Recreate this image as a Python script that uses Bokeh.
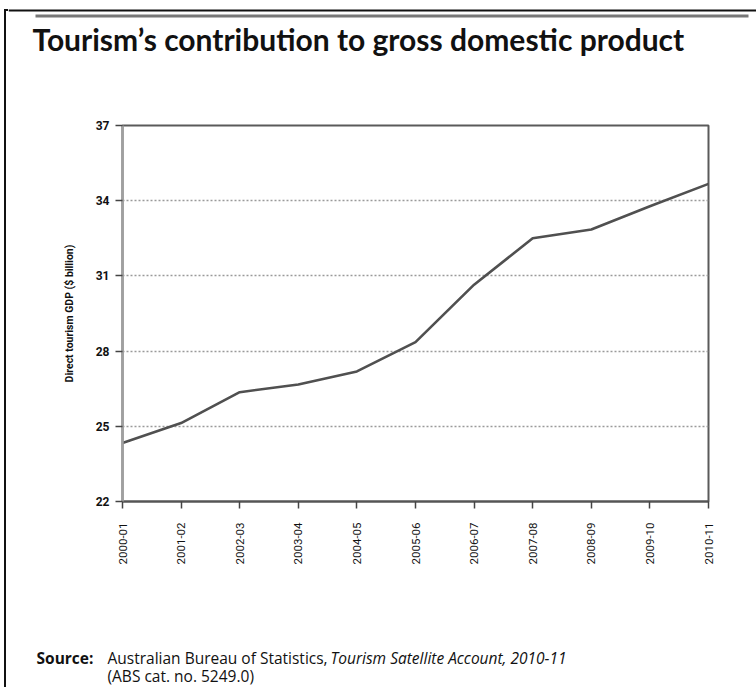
import math
from bokeh.plotting import figure
from bokeh.layouts import column, row
from bokeh.models import Range1d, FixedTicker, Label, Div
from bokeh.embed import file_html
from bokeh.resources import INLINE

# ---- data ----
years = ["2000-01", "2001-02", "2002-03", "2003-04", "2004-05", "2005-06",
         "2006-07", "2007-08", "2008-09", "2009-10", "2010-11"]
gdp = [24.33, 25.13, 26.36, 26.67, 27.19, 28.36, 30.65, 32.50, 32.85, 33.78, 34.67]
y_ticks = [22, 25, 28, 31, 34, 37]

title_text = "Tourism\u2019s contribution to gross domestic product"
y_label = "Direct tourism GDP ($ billion)"
src_head = "Source:"
src_1 = "Australian Bureau of Statistics,"
src_2 = "Tourism Satellite Account, 2010-11"
src_3 = "(ABS cat. no. 5249.0)"

xs = list(range(len(years)))
Y0, Y1 = 22, 37

W, H = 756, 687
OFF = 8              # width of the left border strip
CW = W - OFF         # width of the content column
TOP_H = 110          # title band
BOT_H = 47           # source band
MAIN_H = H - TOP_H - BOT_H


def deco(w, h):
    f = figure(width=w, height=h, output_backend="svg", toolbar_location=None,
               x_range=Range1d(0, w), y_range=Range1d(h, 0),
               x_axis_type=None, y_axis_type=None, min_border=0,
               outline_line_color=None, background_fill_color="white",
               border_fill_color="white")
    f.grid.visible = False
    return f


def lab(f, x, y, text, size, style="normal", font="Open Sans"):
    f.add_layout(Label(x=x - OFF, y=y, text=text, text_font=font,
                       text_font_style=style, text_font_size=size,
                       text_color="#111111", text_baseline="middle",
                       text_align="left"))


# ---- left border strip (plain block, no text) ----
strip = Div(text="", width=4, height=H - 9, margin=(9, 0, 0, 4),
            styles={"background":
                    "linear-gradient(#111111, #111111) left top / 100% 2px no-repeat, "
                    "linear-gradient(#111111, #111111) left top / 2px 100% no-repeat"})

# ---- title band ----
top = deco(CW, TOP_H)
top.quad(left=[0, 35 - OFF], right=[CW, 748 - OFF], top=[9, 14],
         bottom=[11, 17], fill_color=["#111111", "#777777"], line_color=None)
lab(top, 32, 38, title_text, "30px", "bold", "Lato")

# ---- main chart ----
FL, FR = 122 - OFF, W - 708
FT = 125 - TOP_H
FB = (TOP_H + MAIN_H) - 501
p = figure(width=CW, height=MAIN_H, output_backend="svg",
           toolbar_location=None,
           x_range=Range1d(0, len(years) - 1), y_range=Range1d(Y0, Y1),
           min_border_left=FL, min_border_right=FR, min_border_top=FT,
           min_border_bottom=FB, background_fill_color="white",
           border_fill_color="white")

p.line(xs, gdp, line_color="#505050", line_width=2.6)

p.xgrid.visible = False
p.ygrid.ticker = FixedTicker(ticks=y_ticks)
p.ygrid.grid_line_color = "#9a9a9a"
p.ygrid.grid_line_dash = "2 2"
p.ygrid.grid_line_width = 1.5
p.outline_line_color = "#5a5a5a"
p.outline_line_width = 2

p.yaxis.ticker = FixedTicker(ticks=y_ticks)
p.yaxis.axis_line_color = "#a0a0a0"
p.yaxis.axis_line_width = 2.5
p.yaxis.major_tick_line_color = "#444444"
p.yaxis.major_tick_line_width = 1.5
p.yaxis.major_tick_out = 7
p.yaxis.major_tick_in = 0
p.yaxis.minor_tick_line_color = None
p.yaxis.major_label_text_font = "Roboto"
p.yaxis.major_label_text_font_style = "bold"
p.yaxis.major_label_text_font_size = "12px"
p.yaxis.major_label_text_color = "#111111"
p.yaxis.major_label_standoff = 6
p.yaxis.axis_label = y_label
p.yaxis.axis_label_text_font = "Roboto"
p.yaxis.axis_label_text_font_style = "bold"
p.yaxis.axis_label_text_font_size = "10.5px"
p.yaxis.axis_label_text_color = "#111111"
p.yaxis.axis_label_standoff = 17

p.xaxis.ticker = FixedTicker(ticks=xs)
p.xaxis.major_label_overrides = {i: y for i, y in zip(xs, years)}
p.xaxis.major_label_orientation = math.pi / 2
p.xaxis.axis_line_color = "#555555"
p.xaxis.axis_line_width = 2
p.xaxis.major_tick_line_color = "#444444"
p.xaxis.major_tick_line_width = 1.5
p.xaxis.major_tick_out = 7
p.xaxis.major_tick_in = 0
p.xaxis.minor_tick_line_color = None
p.xaxis.major_label_text_font = "Roboto"
p.xaxis.major_label_text_font_size = "11.5px"
p.xaxis.major_label_text_color = "#111111"
p.xaxis.major_label_standoff = 14

# ---- source band ----
bot = deco(CW, BOT_H)
y_src1 = 657 - (H - BOT_H)
y_src2 = 675 - (H - BOT_H)
lab(bot, 36, y_src1, src_head, "15.5px", "bold")
lab(bot, 107, y_src1, src_1, "15.5px")
lab(bot, 330, y_src1, src_2, "15.5px", "italic")
lab(bot, 107, y_src2, src_3, "15.5px")

# the main figure is wrapped in its own row so its frame is not aligned
# with the frames of the title/source bands
layout = row(strip, column(top, row(p, spacing=0), bot, spacing=0), spacing=0)
open("out.html", "w").write(file_html(layout, INLINE))
